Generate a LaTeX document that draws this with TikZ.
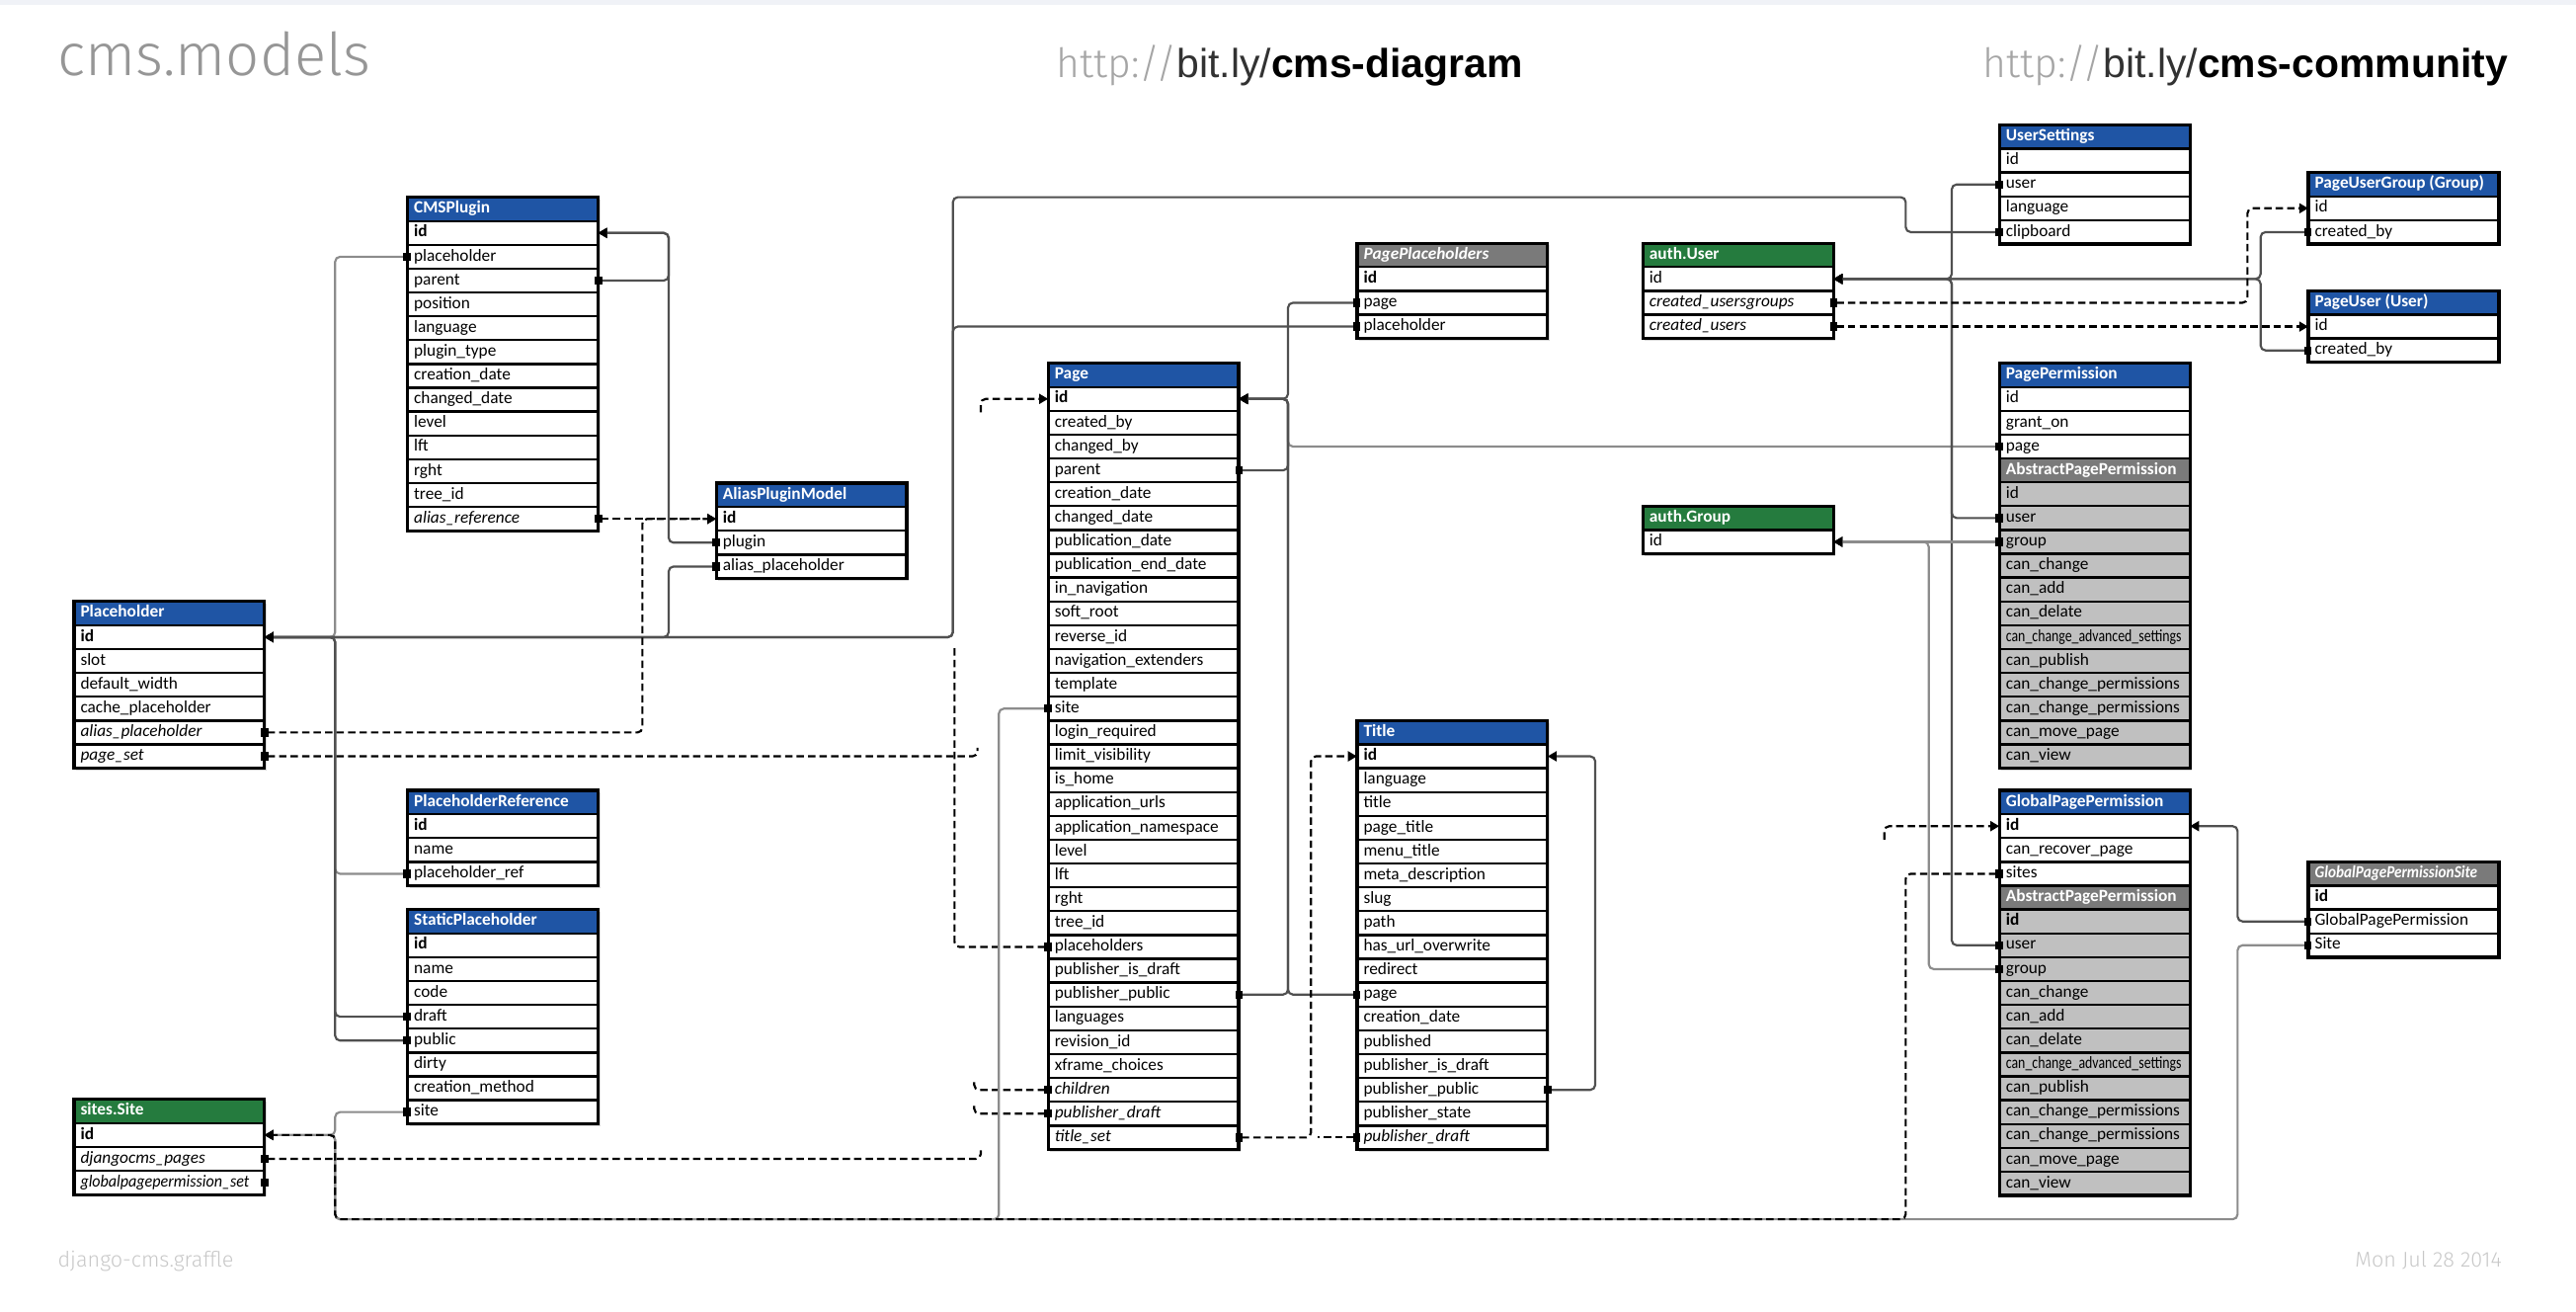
\documentclass[tikz,border=0pt]{standalone}
\usepackage{fontspec}
\setmainfont{Carlito}
\newfontfamily\urlfont{Liberation Sans}
\newfontfamily\thinfont{Fira Sans Light}
\usepackage{graphicx}
\usetikzlibrary{positioning,arrows.meta,fit,backgrounds,shadows}

\definecolor{hdblue}{RGB}{31,85,165}
\definecolor{hdgreen}{RGB}{37,123,62}
\definecolor{hdgray}{RGB}{122,122,122}
\definecolor{rowgray}{RGB}{192,192,192}
\definecolor{wiregray}{RGB}{80,80,80}
\definecolor{wirelight}{RGB}{140,140,140}
\definecolor{titlegray}{RGB}{150,150,150}
\definecolor{urlgray}{RGB}{165,165,165}
\definecolor{urldark}{RGB}{50,50,50}
\definecolor{footgray}{RGB}{200,200,200}
\definecolor{pageedge}{RGB}{240,242,247}

% one table = header node, then one node per field, then a frame
\newcommand{\cellbox}[1]{\makebox[108pt][l]{#1}}
\newcommand{\tbl}[4]{%
  \node[tblhead,#3] (#1) at (#2) {\cellbox{#4}};
  \gdef\tblname{#1}\gdef\tbllast{#1}}
\newcommand{\fldt}[3]{%
  \node[tblrow,#1] (\tblname-#2) at (\tbllast.south west) {\cellbox{#3}};
  \xdef\tbllast{\tblname-#2}}
\newcommand{\fldx}[2]{\fldt{#1}{#2}{\detokenize{#2}}}
\newcommand{\fields}[2]{\foreach \f in {#2}{\edef\x{\noexpand\fldx{#1}{\f}}\x}}
\newcommand{\tblend}{%
  \begin{scope}[on background layer]
    \node[tblshadow,fit=(\tblname)(\tbllast)] (\tblname-shadow) {};
  \end{scope}
  \node[tblframe,fit=(\tblname)(\tbllast)] (\tblname-box) {};}

\begin{document}
\begin{tikzpicture}[x=1pt, y=-1pt,
  tblcell/.style={draw=black, line width=1.4pt, minimum height=14.5pt, inner xsep=4pt, inner ysep=0pt,
    text height=7pt, text depth=2pt, outer sep=0pt, anchor=north west, font=\fontsize{10.4}{12}\selectfont},
  tblhead/.style={tblcell, fill=hdblue, text=white, font=\fontsize{10.4}{12}\selectfont\bfseries},
  greenhead/.style={fill=hdgreen},
  grayhead/.style={fill=hdgray, font=\fontsize{10.4}{12}\selectfont\bfseries\itshape},
  tblrow/.style={tblcell, fill=white},
  pk/.style={font=\fontsize{10.4}{12}\selectfont\bfseries},
  rel/.style={font=\fontsize{10.4}{12}\selectfont\itshape},
  grayrow/.style={fill=rowgray},
  subhead/.style={fill=hdgray, text=white, font=\fontsize{10.4}{12}\selectfont\bfseries},
  tblshadow/.style={fill=white, inner sep=0pt, drop shadow={shadow xshift=1.3pt, shadow yshift=-1.3pt, opacity=0.3}},
  tblframe/.style={draw=black, line width=2pt, inner sep=0pt},
  wire/.style={draw=wiregray, line width=1.3pt, rounded corners=3pt, shorten <=-2pt,
    {Square[length=4.5pt,width=5pt,color=black]}-{Triangle[length=5.5pt,width=6pt,color=black]}},
  lightwire/.style={wire, draw=wirelight},
  back/.style={wire, draw=black, dash pattern=on 4.5pt off 2.5pt},
  backin/.style={back, -{Triangle[length=5.5pt,width=6pt,color=black]}},
  backout/.style={back, {Square[length=4.5pt,width=5pt,color=black]}-}]

  \useasboundingbox (0,0) rectangle (1568,798);
  \fill[pageedge] (0,0) rectangle (1568,3);

  \node[anchor=base west, inner sep=0pt, text=titlegray, font=\fontsize{36}{40}\selectfont\thinfont] (models-title) at (35,46) {cms.models};
  \node[anchor=base west, inner sep=0pt, font=\fontsize{24.6}{30}\selectfont] (diagram-url) at (643,47)
    {{\thinfont\color{urlgray}http://}{\urlfont\color{urldark}bit.ly/}{\urlfont\bfseries cms-diagram}};
  \node[anchor=base west, inner sep=0pt, font=\fontsize{24.6}{30}\selectfont] (community-url) at (1207,47)
    {{\thinfont\color{urlgray}http://}{\urlfont\color{urldark}bit.ly/}{\urlfont\bfseries cms-community}};
  \node[anchor=base west, inner sep=0pt, text=footgray, font=\fontsize{13}{15}\selectfont\thinfont] (file-note) at (35,771) {django-cms.graffle};
  \node[anchor=base east, inner sep=0pt, text=footgray, font=\fontsize{13}{15}\selectfont\thinfont] (date-note) at (1523,771) {Mon Jul 28 2014};

  % tables
  \tbl{cmsplugin}{248,120}{}{CMSPlugin}
  \fields{pk}{id}
  \fields{}{placeholder,parent,position,language,plugin_type,creation_date,changed_date,level,lft,rght,tree_id}
  \fields{rel}{alias_reference}
  \tblend

  \tbl{alias}{436,294}{}{AliasPluginModel}
  \fields{pk}{id}
  \fields{}{plugin,alias_placeholder}
  \tblend

  \tbl{placeholder}{45,366}{}{Placeholder}
  \fields{pk}{id}
  \fields{}{slot,default_width,cache_placeholder}
  \fields{rel}{alias_placeholder,page_set}
  \tblend

  \tbl{phref}{248,481}{}{PlaceholderReference}
  \fields{pk}{id}
  \fields{}{name,placeholder_ref}
  \tblend

  \tbl{static}{248,553.5}{}{StaticPlaceholder}
  \fields{pk}{id}
  \fields{}{name,code,draft,public,dirty,creation_method,site}
  \tblend

  \tbl{site}{45,669}{greenhead}{sites.Site}
  \fields{pk}{id}
  \fields{rel}{djangocms_pages}
  \fldt{rel}{globalpagepermission_set}{\scalebox{0.93}[1]{globalpagepermission\_set}}
  \tblend

  \tbl{page}{638,221}{}{Page}
  \fields{pk}{id}
  \fields{}{created_by,changed_by,parent,creation_date,changed_date,publication_date,publication_end_date,
    in_navigation,soft_root,reverse_id,navigation_extenders,template,site,login_required,limit_visibility,
    is_home,application_urls,application_namespace,level,lft,rght,tree_id,placeholders,publisher_is_draft,
    publisher_public,languages,revision_id,xframe_choices}
  \fields{rel}{children,publisher_draft,title_set}
  \tblend

  \tbl{pageph}{826,148}{grayhead}{PagePlaceholders}
  \fields{pk}{id}
  \fields{}{page,placeholder}
  \tblend

  \tbl{title}{826,438.5}{}{Title}
  \fields{pk}{id}
  \fields{}{language,title,page_title,menu_title,meta_description,slug,path,has_url_overwrite,redirect,
    page,creation_date,published,publisher_is_draft,publisher_public,publisher_state}
  \fields{rel}{publisher_draft}
  \tblend

  \tbl{user}{1000,148}{greenhead}{auth.User}
  \fields{}{id}
  \fields{rel}{created_usersgroups,created_users}
  \tblend

  \tbl{group}{1000,308}{greenhead}{auth.Group}
  \fields{}{id}
  \tblend

  \tbl{usersettings}{1217,76}{}{UserSettings}
  \fields{}{id,user,language,clipboard}
  \tblend

  \tbl{pageusergroup}{1405,105}{}{PageUserGroup (Group)}
  \fields{}{id,created_by}
  \tblend

  \tbl{pageuser}{1405,177}{}{PageUser (User)}
  \fields{}{id,created_by}
  \tblend

  \tbl{pageperm}{1217,221}{}{PagePermission}
  \fields{}{id,grant_on,page}
  \fldt{subhead}{abstract}{AbstractPagePermission}
  \fldt{grayrow}{abs-id}{id}
  \fields{grayrow}{user,group,can_change,can_add,can_delate}
  \fldt{grayrow}{can_change_advanced_settings}{\scalebox{0.8}[1]{can\_change\_advanced\_settings}}
  \fields{grayrow}{can_publish,can_change_permissions}
  \fldt{grayrow}{can_change_permissions2}{can\_change\_permissions}
  \fields{grayrow}{can_move_page,can_view}
  \tblend

  \tbl{gpp}{1217,481}{}{GlobalPagePermission}
  \fields{pk}{id}
  \fields{}{can_recover_page,sites}
  \fldt{subhead}{abstract}{AbstractPagePermission}
  \fldt{grayrow,pk}{abs-id}{id}
  \fields{grayrow}{user,group,can_change,can_add,can_delate}
  \fldt{grayrow}{can_change_advanced_settings}{\scalebox{0.8}[1]{can\_change\_advanced\_settings}}
  \fields{grayrow}{can_publish,can_change_permissions}
  \fldt{grayrow}{can_change_permissions2}{can\_change\_permissions}
  \fields{grayrow}{can_move_page,can_view}
  \tblend

  \tbl{gpps}{1405,524.5}{grayhead}{\scalebox{0.88}[1]{GlobalPagePermissionSite}}
  \fields{pk}{id}
  \fields{}{GlobalPagePermission,Site}
  \tblend

  % where the connectors run
  \coordinate (phbus) at (204,0);
  \coordinate (pluginbus) at (407,0);
  \coordinate (aliasback) at (391,0);
  \coordinate (cliptop) at (580,120);
  \coordinate (clipturn) at (1160,120);
  \coordinate (pagebus) at (784,0);
  \coordinate (siteup) at (608,0);
  \coordinate (sitebus) at (0,742);
  \coordinate (titlebus) at (971,0);
  \coordinate (titleback) at (798,0);
  \coordinate (userbus) at (1188,0);
  \coordinate (groupbus) at (1174,0);
  \coordinate (puserbus) at (1376,0);
  \coordinate (pugroupback) at (1368,0);
  \coordinate (gppbus) at (1362,0);
  \coordinate (gppsitesback) at (1160,0);
  \coordinate (pid-stub) at (597,249);
  \coordinate (pl-stub) at (581,392);
  \coordinate (ps-stub) at (595,455);
  \coordinate (ch-stub) at (593,658);
  \coordinate (pd-stub) at (593,672.5);
  \coordinate (dj-stub) at (597,700);
  \coordinate (gps-stub) at (162,719.75);
  \coordinate (tpd-stub) at (802,692.25);
  \coordinate (gppid-stub) at (1147,509);

  % to Placeholder
  \draw[lightwire] (cmsplugin-placeholder.west) -- (cmsplugin-placeholder.west -| phbus) |- (placeholder-id.east);
  \draw[lightwire] (phref-placeholder_ref.west) -- (phref-placeholder_ref.west -| phbus) |- (placeholder-id.east);
  \draw[wire] (static-draft.west) -- (static-draft.west -| phbus) |- (placeholder-id.east);
  \draw[wire] (static-public.west) -- (static-public.west -| phbus) |- (placeholder-id.east);
  \draw[wire] (alias-alias_placeholder.west) -- (alias-alias_placeholder.west -| pluginbus) |- (placeholder-id.east);
  \draw[wire] (usersettings-clipboard.west) -| (clipturn) -- (cliptop) |- (placeholder-id.east);
  \draw[wire] (pageph-placeholder.west) -- (pageph-placeholder.west -| cliptop) |- (placeholder-id.east);
  \draw[back] (placeholder-alias_placeholder.east) -- (placeholder-alias_placeholder.east -| aliasback) |- (alias-id.west);
  \draw[backout] (placeholder-page_set.east) -| (ps-stub);
  \draw[backout] (page-placeholders.west) -| (pl-stub);

  % CMSPlugin and AliasPluginModel
  \draw[wire] (alias-plugin.west) -- (alias-plugin.west -| pluginbus) |- (cmsplugin-id.east);
  \draw[wire] (cmsplugin-parent.east) -- (cmsplugin-parent.east -| pluginbus) |- (cmsplugin-id.east);
  \draw[back] (cmsplugin-alias_reference.east) -- (alias-id.west);

  % to Page
  \draw[wire] (pageph-page.west) -- (pageph-page.west -| pagebus) |- (page-id.east);
  \draw[wire] (page-parent.east) -- (page-parent.east -| pagebus) |- (page-id.east);
  \draw[lightwire] (pageperm-page.west) -- (pageperm-page.west -| pagebus) |- (page-id.east);
  \draw[wire] (title-page.west) -- (title-page.west -| pagebus) |- (page-id.east);
  \draw[wire] (page-publisher_public.east) -- (page-publisher_public.east -| pagebus) |- (page-id.east);
  \draw[backin] (pid-stub) |- (page-id.west);
  \draw[backout] (page-children.west) -| (ch-stub);
  \draw[backout] (page-publisher_draft.west) -| (pd-stub);
  \draw[backout] (site-djangocms_pages.east) -| (dj-stub);

  % to Title
  \draw[wire] (title-publisher_public.east) -- (title-publisher_public.east -| titlebus) |- (title-id.east);
  \draw[back] (page-title_set.east) -- (page-title_set.east -| titleback) |- (title-id.west);
  \draw[backout] (title-publisher_draft.west) -- (tpd-stub);

  % to sites.Site
  \draw[lightwire] (static-site.west) -- (static-site.west -| phbus) |- (site-id.east);
  \draw[lightwire] (page-site.west) -- (page-site.west -| siteup) -- (siteup |- sitebus) -- (phbus |- sitebus) |- (site-id.east);
  \draw[lightwire] (gpps-Site.west) -- (gpps-Site.west -| gppbus) -- (gppbus |- sitebus) -- (phbus |- sitebus) |- (site-id.east);
  \draw[back] (gpp-sites.west) -- (gpp-sites.west -| gppsitesback) -- (gppsitesback |- sitebus) -- (phbus |- sitebus) |- (site-id.east);
  \draw[backout] (site-globalpagepermission_set.east) -- (gps-stub);

  % to GlobalPagePermission
  \draw[wire] (gpps-GlobalPagePermission.west) -- (gpps-GlobalPagePermission.west -| gppbus) |- (gpp-id.east);
  \draw[backin] (gppid-stub) |- (gpp-id.west);

  % to auth.User
  \draw[wire] (usersettings-user.west) -- (usersettings-user.west -| userbus) |- (user-id.east);
  \draw[wire] (pageperm-user.west) -- (pageperm-user.west -| userbus) |- (user-id.east);
  \draw[wire] (gpp-user.west) -- (gpp-user.west -| userbus) |- (user-id.east);
  \draw[wire] (pageusergroup-created_by.west) -- (pageusergroup-created_by.west -| puserbus) |- (user-id.east);
  \draw[wire] (pageuser-created_by.west) -- (pageuser-created_by.west -| puserbus) |- (user-id.east);
  \draw[back] (user-created_usersgroups.east) -- (user-created_usersgroups.east -| pugroupback) |- (pageusergroup-id.west);
  \draw[back] (user-created_users.east) -- (pageuser-id.west);

  % to auth.Group
  \draw[lightwire] (pageperm-group.west) -- (group-id.east);
  \draw[lightwire] (gpp-group.west) -- (gpp-group.west -| groupbus) |- (group-id.east);

\end{tikzpicture}
\end{document}
